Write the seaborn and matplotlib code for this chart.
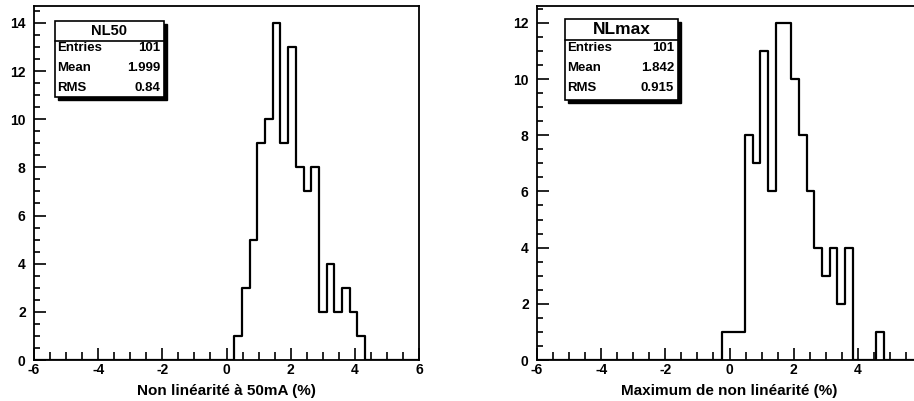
import numpy as np
import pandas as pd
import matplotlib
matplotlib.use("Agg")
import matplotlib.pyplot as plt
from matplotlib.patches import Rectangle
from matplotlib.ticker import MultipleLocator
import seaborn as sns

# binning used for both histograms (50 bins from -6 to 6)
x_min, x_max, n_bins = -6, 6, 50

# NL50 : counts per bin, first non-empty bin starts at 0.24
nl50_start = 0.24
nl50_counts = [1, 3, 5, 9, 10, 14, 9, 13, 8, 7, 8, 2, 4, 2, 3, 2, 1]
nl50_stats = ["101", "1.999", "0.84"]

# NLmax : counts per bin, first non-empty bin starts at -0.24
nlmax_start = -0.24
nlmax_counts = [1, 1, 1, 8, 7, 11, 6, 12, 12, 10, 8, 6, 4, 3, 4, 2, 4, 0, 0, 0, 1]
nlmax_stats = ["101", "1.842", "0.915"]

stat_names = ["Entries", "Mean", "RMS"]

sns.set_style("white")
plt.rcParams["font.family"] = ["Liberation Sans", "DejaVu Sans"]
plt.rcParams["font.weight"] = "bold"
plt.rcParams["text.color"] = "black"
plt.rcParams["axes.labelcolor"] = "black"
plt.rcParams["xtick.color"] = "black"
plt.rcParams["ytick.color"] = "black"
plt.rcParams["axes.unicode_minus"] = False

W, H = 914, 401
fig = plt.figure(figsize=(W / 100, H / 100), dpi=100)
width = (x_max - x_min) / n_bins


def px_box(x0, y0, x1, y1):
    # pixel box (top-left origin) -> figure fraction rect
    return [x0 / W, 1 - y1 / H, (x1 - x0) / W, (y1 - y0) / H]


def draw_hist(rect, start, counts, ymax, xlabel):
    ax = fig.add_axes(rect)
    df = pd.DataFrame({"x": start + width * (np.arange(len(counts)) + 0.5),
                       "n": counts})
    sns.histplot(data=df, x="x", weights="n", bins=n_bins, binrange=(x_min, x_max),
                 element="step", fill=False, color="black", linewidth=1.6, ax=ax)
    ax.set_xlim(x_min, x_max)
    ax.set_ylim(0, ymax)
    ax.xaxis.set_major_locator(MultipleLocator(2))
    ax.xaxis.set_minor_locator(MultipleLocator(0.5))
    ax.yaxis.set_major_locator(MultipleLocator(2))
    ax.yaxis.set_minor_locator(MultipleLocator(0.5))
    ax.tick_params(which="both", bottom=True, left=True, top=False, right=False,
                   direction="in", width=1.2, color="black")
    ax.tick_params(axis="x", which="major", length=8.5, labelsize=10, pad=2)
    ax.tick_params(axis="x", which="minor", length=5.5)
    ax.tick_params(axis="y", which="major", length=8.5, labelsize=10, pad=6)
    ax.tick_params(axis="y", which="minor", length=4.5)
    for s in ax.spines.values():
        s.set_visible(True)
        s.set_color("black")
        s.set_linewidth(1.3)
    ax.set_ylabel("")
    ax.set_xlabel(xlabel, fontsize=11, fontweight="bold", labelpad=5)
    return ax


def stats_box(x0, y0, x1, y1, ysep, title, title_size, values):
    fig.add_artist(Rectangle((x0 / W + 3 / W, 1 - (y1 + 3) / H), (x1 - x0) / W, (y1 - y0) / H,
                             transform=fig.transFigure, facecolor="black", edgecolor="black"))
    fig.add_artist(Rectangle((x0 / W, 1 - y1 / H), (x1 - x0) / W, (y1 - y0) / H,
                             transform=fig.transFigure, facecolor="white", edgecolor="black",
                             linewidth=1.2))
    fig.add_artist(plt.Line2D([x0 / W, x1 / W], [1 - ysep / H] * 2, transform=fig.transFigure,
                              color="black", linewidth=1.2))
    fig.text((x0 + x1) / 2 / W, 1 - (y0 + ysep) / 2 / H, title, ha="center", va="center",
             fontsize=title_size, fontweight="bold")
    for i, (name, val) in enumerate(zip(stat_names, values)):
        yy = 1 - (48 + 20 * i) / H
        fig.text((x0 + 2) / W, yy, name, ha="left", va="center", fontsize=9.5, fontweight="bold")
        fig.text((x1 - 4) / W, yy, val, ha="right", va="center", fontsize=9.5, fontweight="bold")


draw_hist(px_box(34, 6, 419, 360), nl50_start, nl50_counts, 14.7,
          "Non linéarité à 50mA (%)")
draw_hist(px_box(537, 6, 922, 360), nlmax_start, nlmax_counts, 12.6,
          "Maximum de non linéarité (%)")

stats_box(55, 21, 164, 97, 41, "NL50", 10.5, nl50_stats)
stats_box(565, 19, 678, 100, 40, "NLmax", 12.5, nlmax_stats)

fig.savefig("out.png", dpi=100)
